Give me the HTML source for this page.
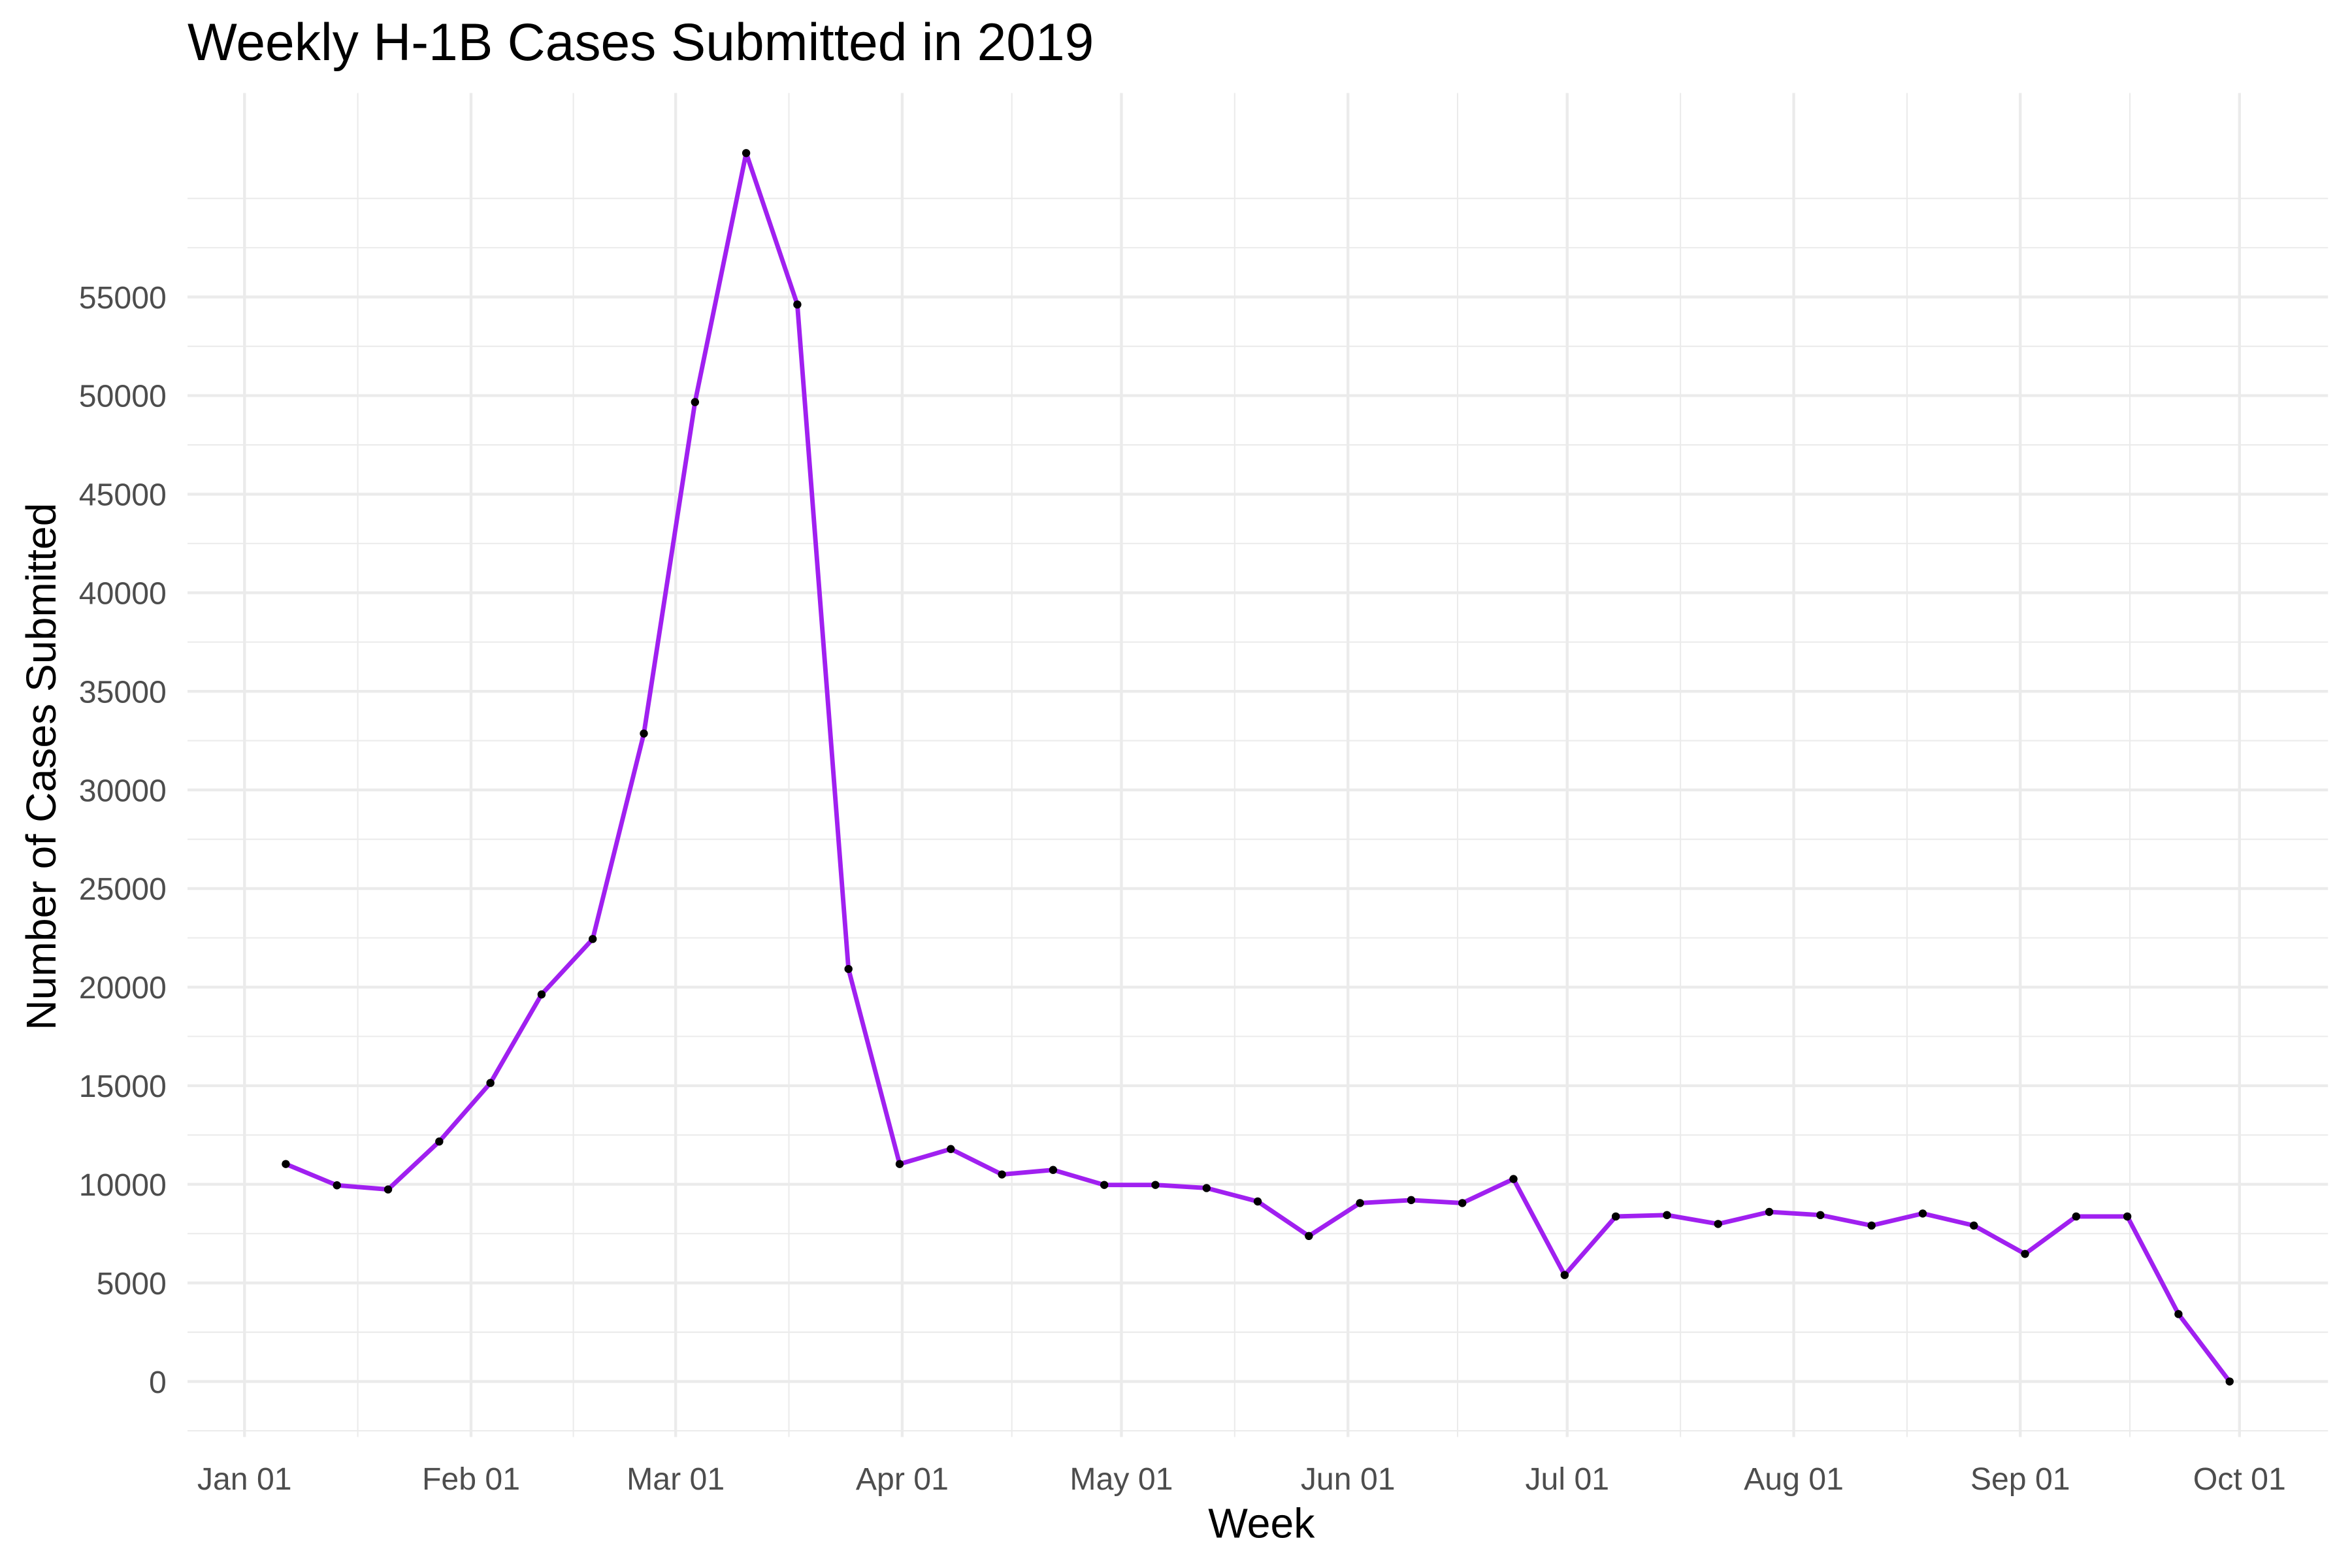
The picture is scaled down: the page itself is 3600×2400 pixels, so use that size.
<!DOCTYPE html>
<html><head><meta charset="utf-8"><style>html,body{margin:0;padding:0;background:#fff}svg{display:block}</style></head>
<body>
<svg id="chart" width="3600" height="2400" viewBox="0 0 1568 1045.33" xmlns="http://www.w3.org/2000/svg" font-family="Liberation Sans, sans-serif">
<rect width="1568" height="1045.33" fill="#fff"/>
<g id="grid"></g>
<g id="series"></g>
<g id="axes"></g>
<text x="125" y="40" font-size="35" fill="#000">Weekly H-1B Cases Submitted in 2019</text>
<text x="841" y="1025" font-size="28" text-anchor="middle" fill="#000">Week</text>
<text transform="translate(37,511) rotate(-90)" font-size="28" text-anchor="middle" fill="#000">Number of Cases Submitted</text>
</svg>
<script>
const weekDays = [5,12,19,26,33,40,47,54,61,68,75,82,89,96,103,110,117,124,131,138,145,152,159,166,173,180,187,194,201,208,215,222,229,236,243,250,257,264,271];
const cases = [11030,9950,9740,12170,15140,19630,22440,32860,49670,62300,54620,20920,11030,11790,10500,10730,9970,9970,9810,9130,7380,9050,9200,9050,10270,5400,8370,8440,7990,8600,8440,7910,8520,7910,6470,8370,8370,3420,0];
const yTicks = [0,5000,10000,15000,20000,25000,30000,35000,40000,45000,50000,55000];
const yMinor = [-2500,2500,7500,12500,17500,22500,27500,32500,37500,42500,47500,52500,57500,60000];
const xTickLabels = ["Jan 01","Feb 01","Mar 01","Apr 01","May 01","Jun 01","Jul 01","Aug 01","Sep 01","Oct 01"];
const xTickDays = [0,31,59,90,120,151,181,212,243,273];
const xMinorDays = [15.5,45,74.5,105,135.5,166,196.5,227.5,258];

const NS="http://www.w3.org/2000/svg";
const X0=125,X1=1552,Y0=62,Y1=958;
const xs=d=>163+d*(1493-163)/273;
const xp=d=>xs(d+0.65);
const ys=v=>921-v*(921-198)/55000;
function mk(tag,attrs,parent){const e=document.createElementNS(NS,tag);for(const k in attrs)e.setAttribute(k,attrs[k]);parent.appendChild(e);return e;}
const grid=document.getElementById('grid'),series=document.getElementById('series'),axes=document.getElementById('axes');
yMinor.forEach(v=>{const l=mk('line',{x1:X0,x2:X1,y1:ys(v),y2:ys(v),stroke:'#ebebeb','stroke-width':0.9},grid);

});
xMinorDays.forEach(d=>{const l=mk('line',{x1:xs(d),x2:xs(d),y1:Y0,y2:Y1,stroke:'#ebebeb','stroke-width':0.9},grid);

});
yTicks.forEach(v=>{const l=mk('line',{x1:X0,x2:X1,y1:ys(v),y2:ys(v),stroke:'#ebebeb','stroke-width':1.9},grid);


const t=mk('text',{x:111,y:ys(v)+7.5,'font-size':21,'text-anchor':'end',fill:'#4d4d4d'},axes);t.textContent=v;

});
xTickDays.forEach((d,i)=>{const l=mk('line',{x1:xs(d),x2:xs(d),y1:Y0,y2:Y1,stroke:'#ebebeb','stroke-width':1.9},grid);


const t=mk('text',{x:xs(d),y:993,'font-size':21,'text-anchor':'middle',fill:'#4d4d4d'},axes);t.textContent=xTickLabels[i];

});
const pts=weekDays.map((d,i)=>xp(d).toFixed(2)+','+ys(cases[i]).toFixed(2)).join(' ');
const pl=mk('polyline',{points:pts,fill:'none',stroke:'#a020f0','stroke-width':3,'stroke-linejoin':'round'},series);


weekDays.forEach((d,i)=>{const c=mk('circle',{cx:xp(d),cy:ys(cases[i]),r:2.7,fill:'#000'},series);

});
</script>
</body></html>
